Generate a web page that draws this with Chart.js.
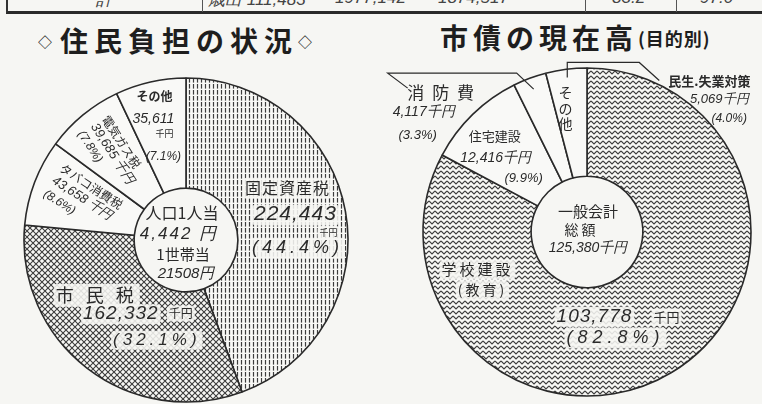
<!DOCTYPE html>
<html lang="ja">

<head>
    <meta charset="UTF-8" />
    <title>住民負担の状況・市債の現在高</title>
    <script src="https://cdn.jsdelivr.net/npm/chart.js"></script>
    <style>
        body {
            margin: 0;
            width: 762px;
            height: 404px;
            overflow: hidden;
            position: relative;
            background: #f6f6f3;
            color: #262626;
            font-family: "Noto Sans CJK JP", sans-serif;
        }

        .abs { position: absolute; }

        /* restos de la tabla de arriba */
        .tabla {
            left: 6px; top: -8px; width: 770px; height: 19px;
            border-left: 2px solid #333; border-bottom: 3px solid #2a2a2a;
        }
        .sep { top: 0; width: 1px; height: 12px; background: #555; }
        .celda { top: -12px; font: italic 17px "Liberation Sans", sans-serif; color: #444; white-space: nowrap; }

        .titulo { font-weight: 700; font-size: 28px; line-height: 1; white-space: nowrap; color: #1e1e1e; }
        .titulo .ch { letter-spacing: 6px; }
        .titulo .dia { font-size: 14px; vertical-align: 5px; }
        .titulo .sub { font-size: 18px; letter-spacing: 1px; vertical-align: 3px; }

        canvas { position: absolute; top: 0; }
    </style>
</head>

<body>
    <div class="abs tabla"></div>
    <div class="abs sep" style="left:202px"></div>
    <div class="abs sep" style="left:585px"></div>
    <div class="abs sep" style="left:676px"></div>
    <div class="abs celda" style="left:96px">計</div>
    <div class="abs celda" style="left:208px">歳出 111,483</div>
    <div class="abs celda" style="left:335px">1977,142</div>
    <div class="abs celda" style="left:438px">1874,517</div>
    <div class="abs celda" style="left:612px">83.2</div>
    <div class="abs celda" style="left:700px">97.0</div>

    <div class="abs titulo" style="left:38px; top:26px"><span class="dia" style="margin-right:8px">◇</span><span class="ch">住民負担の状況</span><span class="dia">◇</span></div>
    <div class="abs titulo" style="left:440px; top:23px"><span class="ch" style="letter-spacing:5px">市債の現在高</span><span class="sub">(目的別)</span></div>

    <canvas id="izq" width="381" height="404" style="left:0"></canvas>
    <canvas id="der" width="381" height="404" style="left:381px"></canvas>

    <script>
        // 住民負担 (千円)
        const taxNames = ['固定資産税', '市民税', 'タバコ消費税', '電気ガス税', 'その他'];
        const taxValues = [224443, 162332, 43658, 39685, 35611];
        const taxPercents = ['44.4', '32.1', '8.6', '7.8', '7.1'];
        const perPerson = '4,442';
        const perHousehold = '21508';

        // 市債の現在高 (千円)
        const debtNames = ['学校建設', '住宅建設', '消防費', '民生.失業対策'];
        const debtValues = [103778, 12416, 4117, 5069];
        const debtPercents = ['82.8', '9.9', '3.3', '4.0'];
        const debtTotal = '125,380';

        const BG = '#f6f6f3';
        const INK = '#2a2a2a';

        const jp = (s, w) => `${w || 400} ${s}px "Noto Sans CJK JP", sans-serif`;
        const it = s => `italic ${s}px "Liberation Sans", "DejaVu Sans", sans-serif`;
        const num = v => v.toLocaleString('en-US');
        const pct = p => `(${p}%)`;

        function makePattern(w, h, draw) {
            const c = document.createElement('canvas');
            c.width = w; c.height = h;
            const g = c.getContext('2d');
            g.fillStyle = '#f8f8f5';
            g.fillRect(0, 0, w, h);
            g.strokeStyle = '#3c3c3c';
            draw(g);
            return g.createPattern(c, 'repeat');
        }

        // rayas verticales cortadas
        const rayas = makePattern(4, 6, g => {
            g.lineWidth = 1.2;
            g.beginPath(); g.moveTo(1.5, 0); g.lineTo(1.5, 4.6); g.stroke();
        });
        // malla
        const malla = makePattern(6, 6, g => {
            g.lineWidth = 1.1;
            g.beginPath();
            g.moveTo(0, 0); g.lineTo(6, 6);
            g.moveTo(6, 0); g.lineTo(0, 6);
            g.stroke();
        });
        // zigzag
        const zigzag = makePattern(6, 5, g => {
            g.lineWidth = 1.1;
            g.beginPath();
            g.moveTo(0, 1); g.lineTo(3, 4); g.lineTo(6, 1);
            g.stroke();
        });

        // textos de cada grafica (fuera de las opciones de Chart.js)
        const labelSets = {};

        const sliceLabels = {
            id: 'sliceLabels',
            afterDatasetsDraw(chart) {
                const opts = labelSets[chart.canvas.id];
                if (!opts) return;
                const ctx = chart.ctx;
                const arcs = chart.getDatasetMeta(0).data;
                const c0 = arcs[0].getProps(['x', 'y']);

                const write = (x, y, rot, lines, halo) => {
                    const a = rot * Math.PI / 180;
                    lines.forEach(([text, u, v, font, sp]) => {
                        ctx.save();
                        ctx.translate(x + u * Math.cos(a) - v * Math.sin(a), y + u * Math.sin(a) + v * Math.cos(a));
                        ctx.rotate(a);
                        ctx.font = font;
                        ctx.letterSpacing = (sp || 0) + 'px';
                        ctx.textAlign = 'center';
                        ctx.textBaseline = 'middle';
                        if (halo) {
                            // fondo claro detras del texto
                            const m = ctx.measureText(text);
                            const h = m.actualBoundingBoxAscent + m.actualBoundingBoxDescent;
                            ctx.fillStyle = 'rgba(246,246,243,0.88)';
                            ctx.beginPath();
                            ctx.roundRect(-m.width / 2 - 2, -m.actualBoundingBoxAscent - 2, m.width + 4, h + 4, 4);
                            ctx.fill();
                        }
                        ctx.fillStyle = INK;
                        ctx.fillText(text, 0, 0);
                        ctx.restore();
                    });
                };

                const anchor = (item) => {
                    const p = arcs[item.slice].getProps(['x', 'y', 'startAngle', 'endAngle', 'outerRadius']);
                    const mid = (p.startAngle + p.endAngle) / 2 + (item.shift || 0) * Math.PI / 180;
                    return { x: p.x + Math.cos(mid) * p.outerRadius * item.r, y: p.y + Math.sin(mid) * p.outerRadius * item.r };
                };

                opts.items.forEach(item => {
                    const q = anchor(item);
                    if (item.leader) {
                        ctx.save();
                        ctx.strokeStyle = INK;
                        ctx.lineWidth = 1.2;
                        ctx.beginPath();
                        ctx.moveTo(q.x, q.y);
                        item.leader.forEach(([dx, dy]) => ctx.lineTo(q.x + dx, q.y + dy));
                        ctx.stroke();
                        ctx.restore();
                    }
                    write(q.x, q.y, item.rot || 0, item.lines, item.halo);
                });

                write(c0.x, c0.y, 0, opts.center, false);
            }
        };

        function donut(id, values, colors, pad, radius, cutout) {
            return new Chart(document.getElementById(id), {
                type: 'doughnut',
                data: {
                    datasets: [{
                        data: values,
                        backgroundColor: colors,
                        borderColor: INK,
                        borderWidth: 1.6
                    }]
                },
                options: {
                    responsive: false,
                    animation: false,
                    radius: radius,
                    cutout: cutout,
                    layout: { padding: pad },
                    plugins: {
                        legend: { display: false },
                        tooltip: { enabled: false }
                    }
                },
                plugins: [sliceLabels]
            });
        }

        const white = '#f9f9f7';

        labelSets.izq = {
            items: [
                {
                    slice: 0, r: 0.68, halo: true, lines: [
                        [taxNames[0], -7, -33, jp(16), 1],
                        [num(taxValues[0]), 1, -6, it(21), 1],
                        ['千円', 34, 12, jp(9)],
                        [pct(taxPercents[0]), 3, 27, it(18), 4]
                    ]
                },
                {
                    slice: 1, r: 0.63, halo: true, lines: [
                        ['市 民 税', -27, -26, jp(18), 4],
                        [num(taxValues[1]), -3, -7, it(19), 1],
                        ['千円', 57, -7, jp(12)],
                        [pct(taxPercents[1]), 33, 19, it(17), 4]
                    ]
                },
                {
                    slice: 2, r: 0.69, shift: 1, rot: 33, lines: [
                        [taxNames[2], 1, -15, jp(12)],
                        [num(taxValues[2]) + ' 千円', 0, 0, it(13)],
                        [pct(taxPercents[2]), -17, 16, it(12)]
                    ]
                },
                {
                    slice: 3, r: 0.70, shift: -1, rot: 57, lines: [
                        [taxNames[3], -5, -14, jp(12)],
                        [num(taxValues[3]) + ' 千円', 0, 0, it(13)],
                        [pct(taxPercents[3]), -18, 15, it(12)]
                    ]
                },
                {
                    slice: 4, r: 0.72, lines: [
                        [taxNames[4], -6, -30, jp(12, 700)],
                        [num(taxValues[4]), -7, -7, it(14)],
                        ['千円', 4, 7, jp(9)],
                        [pct(taxPercents[4]), 3, 30, it(12)]
                    ]
                }
            ],
            center: [
                ['人口1人当', -4, -27, jp(16)],
                [perPerson + ' 円', -7, -6, it(17), 2],
                ['1世帯当', -3, 14, jp(15)],
                [perHousehold + '円', 0, 34, it(15)]
            ]
        };

        labelSets.der = {
            items: [
                {
                    slice: 0, r: 0.68, halo: true, lines: [
                        [num(debtValues[0]), -50, -11, it(19), 1],
                        ['千円', 22, -11, jp(13)],
                        [pct(debtPercents[0]), -29, 10, it(18), 5],
                        [debtNames[0], -167, -58, jp(15), 3],
                        ['(教育)', -162, -38, jp(14), 3]
                    ]
                },
                {
                    slice: 1, r: 0.72, lines: [
                        [debtNames[1], -10, -11, jp(13)],
                        [num(debtValues[1]) + '千円', -9, 11, it(14)],
                        [pct(debtPercents[1]), 19, 31, it(13)]
                    ]
                },
                {
                    slice: 2, r: 0.93, leader: [[-17, -16], [-146, -16], [-126, -1]], lines: [
                        ['消 防 費', -92, 3, jp(17), 2],
                        [num(debtValues[2]) + '千円', -110, 23, it(14)],
                        [pct(debtPercents[2]), -116, 46, it(13)]
                    ]
                },
                {
                    slice: 3, r: 0.95, leader: [[0, -15], [72, -15], [92, 3]], lines: [
                        [debtNames[3], 142, 4, jp(13, 700)],
                        [num(debtValues[3]) + '千円', 152, 22, it(13)],
                        [pct(debtPercents[3]), 162, 41, it(12)]
                    ]
                },
                {
                    slice: 3, r: 0.7, lines: [
                        ['そ', -7, -25, jp(14)],
                        ['の', -7, -9, jp(14)],
                        ['他', -7, 6, jp(14)]
                    ]
                }
            ],
            center: [
                ['一般会計', 1, -21, jp(15)],
                ['総 額', -7, -2, jp(14)],
                [debtTotal + '千円', 1, 16, it(14)]
            ]
        };

        donut('izq', taxValues, [rayas, malla, white, white, white],
            { top: 76, left: 0, right: 9, bottom: 0 }, 162, '32%');

        donut('der', debtValues, [zigzag, white, white, white],
            { top: 60, left: 31, right: 0, bottom: 0 }, 164, '34%');
    </script>
</body>

</html>
